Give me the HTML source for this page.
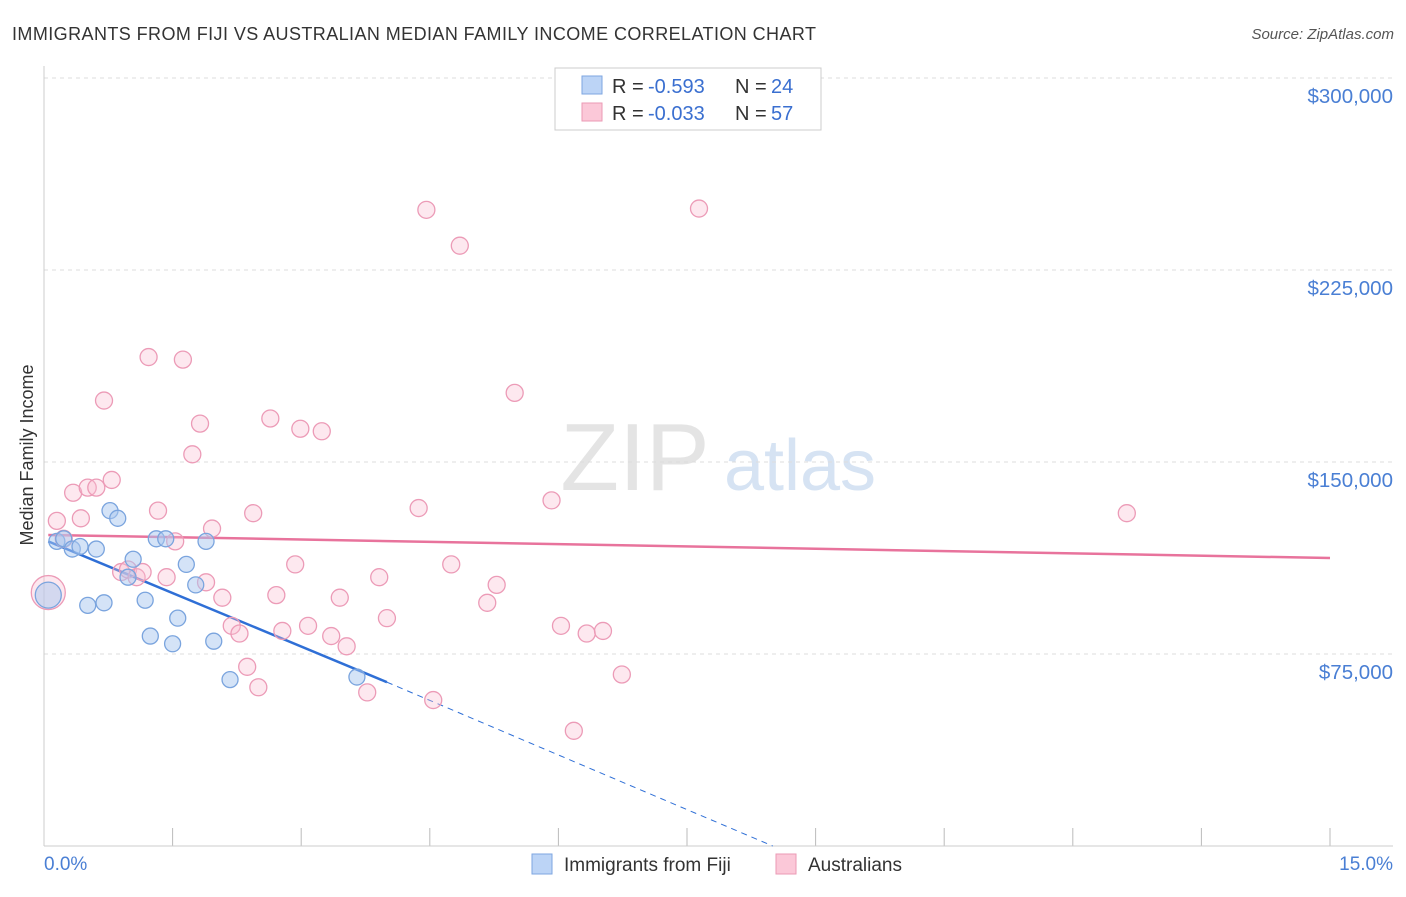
<!DOCTYPE html>
<html><head><meta charset="utf-8"><style>
body{margin:0;background:#fff;font-family:"Liberation Sans",sans-serif}
svg text{font-family:"Liberation Sans",sans-serif}
</style></head><body>
<svg id="c" width="1406" height="892" xmlns="http://www.w3.org/2000/svg">
<text x="12" y="40" font-size="18" fill="#333" textLength="804">IMMIGRANTS FROM FIJI VS AUSTRALIAN MEDIAN FAMILY INCOME CORRELATION CHART</text>
<text x="1394" y="39" font-size="15" fill="#555" text-anchor="end" font-style="italic">Source: ZipAtlas.com</text>
<g><text x="635" y="490" font-size="96" fill="#e4e4e4" font-family="Liberation Serif" text-anchor="middle">ZIP</text><text x="800" y="490" font-size="72" fill="#d6e3f3" text-anchor="middle">atlas</text></g>
<g id="grid"></g>
<line x1="44" y1="66" x2="44" y2="846" stroke="#ccc"/>
<line x1="44" y1="846" x2="1393" y2="846" stroke="#ccc"/>
<text x="-455" y="33" transform="rotate(-90)" font-size="18" fill="#333" text-anchor="middle">Median Family Income</text>
<text x="44" y="870" font-size="19" fill="#4a7fd4">0.0%</text>
<text x="1393" y="870" font-size="19" fill="#4a7fd4" text-anchor="end">15.0%</text>
<g id="lines"></g><g id="pts"></g>
<g>
<rect x="555" y="68" width="266" height="62" fill="#fff" stroke="#ccc"/>
<rect x="582" y="76" width="20" height="18" fill="#bcd4f6" stroke="#7ea6e0"/>
<rect x="582" y="103" width="20" height="18" fill="#fbc8d8" stroke="#eb9ab5"/>
<text x="612" y="93" font-size="20" fill="#333">R =</text><text x="648" y="93" font-size="20" fill="#3a6fd0">-0.593</text>
<text x="735" y="93" font-size="20" fill="#333">N =</text><text x="771" y="93" font-size="20" fill="#3a6fd0">24</text>
<text x="612" y="120" font-size="20" fill="#333">R =</text><text x="648" y="120" font-size="20" fill="#3a6fd0">-0.033</text>
<text x="735" y="120" font-size="20" fill="#333">N =</text><text x="771" y="120" font-size="20" fill="#3a6fd0">57</text>
</g>
<g>
<rect x="532" y="854" width="20" height="20" fill="#bcd4f6" stroke="#7ea6e0"/>
<text x="564" y="871" font-size="19" fill="#333">Immigrants from Fiji</text>
<rect x="776" y="854" width="20" height="20" fill="#fbc8d8" stroke="#eb9ab5"/>
<text x="808" y="871" font-size="19" fill="#333">Australians</text>
</g>
</svg>
<script>
const yTicks=[75000,150000,225000,300000];
const yTickLabels=["$75,000","$150,000","$225,000","$300,000"];
const xTicks=[0,1.5,3,4.5,6,7.5,9,10.5,12,13.5,15];
const fijiX=[0.05,0.15,0.23,0.33,0.42,0.61,0.51,0.70,0.77,0.86,1.04,0.98,1.18,1.24,1.31,1.42,1.50,1.56,1.66,1.77,1.89,1.98,2.17,3.65];
const fijiY=[98000,119000,120000,116000,117000,116000,94000,95000,131000,128000,112000,105000,96000,82000,120000,120000,79000,89000,110000,102000,119000,80000,65000,66000];
const ausX=[0.05,0.15,0.34,0.43,0.51,0.61,0.70,0.79,0.90,0.98,1.08,1.15,1.22,1.33,1.43,1.53,1.62,1.73,1.82,1.89,1.96,2.08,2.19,2.28,2.37,2.44,2.50,2.64,2.71,2.78,2.93,2.99,3.08,3.24,3.35,3.45,3.53,3.77,3.91,4.00,4.37,4.46,4.54,4.75,4.85,5.17,5.28,5.49,5.92,6.03,6.18,6.33,6.52,6.74,7.64,12.63,0.23];
const ausY=[99000,127000,138000,128000,140000,140000,174000,143000,107000,108000,105000,107000,191000,131000,105000,119000,190000,153000,165000,103000,124000,97000,86000,83000,70000,130000,62000,167000,98000,84000,110000,163000,86000,162000,82000,97000,78000,60000,105000,89000,132000,248500,57000,110000,234500,95000,102000,177000,135000,86000,45000,83000,84000,67000,249000,130000,120000];
const fijiTrend=[0.05,119000,4.0,64000,8.5,0];
const ausTrend=[0.05,121500,15,112500];
const X=v=>44+v/15*1286, Y=v=>846-v/75000*192;
const NS="http://www.w3.org/2000/svg";
function mk(p,t,a){const e=document.createElementNS(NS,t);for(const k in a)e.setAttribute(k,a[k]);document.getElementById(p).appendChild(e);return e;}
yTicks.forEach((t,i)=>{
 const l=mk('grid','line',{x1:44,x2:1393,y1:Y(t),y2:Y(t),stroke:'#ddd','stroke-dasharray':'4,4'});
 
 
 const tx=mk('grid','text',{x:1393,y:Y(t)+25,'font-size':20.5,fill:'#4a7fd4','text-anchor':'end'});tx.textContent=yTickLabels[i];
 
 
});
const tl=mk('grid','line',{x1:44,x2:1393,y1:78,y2:78,stroke:'#ddd','stroke-dasharray':'4,4'});
xTicks.slice(1).forEach(t=>{const l=mk('grid','line',{x1:X(t),x2:X(t),y1:828,y2:846,stroke:'#bbb'});
 
 });
let a=mk('lines','line',{x1:X(fijiTrend[0]),y1:Y(fijiTrend[1]),x2:X(fijiTrend[2]),y2:Y(fijiTrend[3]),stroke:'#2f6fd6','stroke-width':2.5});


a=mk('lines','line',{x1:X(fijiTrend[2]),y1:Y(fijiTrend[3]),x2:X(fijiTrend[4]),y2:Y(fijiTrend[5]),stroke:'#2f6fd6','stroke-width':1,'stroke-dasharray':'6,5'});


a=mk('lines','line',{x1:X(ausTrend[0]),y1:Y(ausTrend[1]),x2:X(ausTrend[2]),y2:Y(ausTrend[3]),stroke:'#e8739c','stroke-width':2.5});


ausX.forEach((x,i)=>{const c=mk('pts','circle',{cx:X(x),cy:Y(ausY[i]),r:i==0?17:8.5,fill:'rgba(248,190,210,0.35)',stroke:'#ec9bb7','stroke-width':1.3});
 
 });
fijiX.forEach((x,i)=>{const c=mk('pts','circle',{cx:X(x),cy:Y(fijiY[i]),r:i==0?13:8,fill:'rgba(170,200,240,0.5)',stroke:'#7aa4de','stroke-width':1.3});
 
 });
</script>
</body></html>
